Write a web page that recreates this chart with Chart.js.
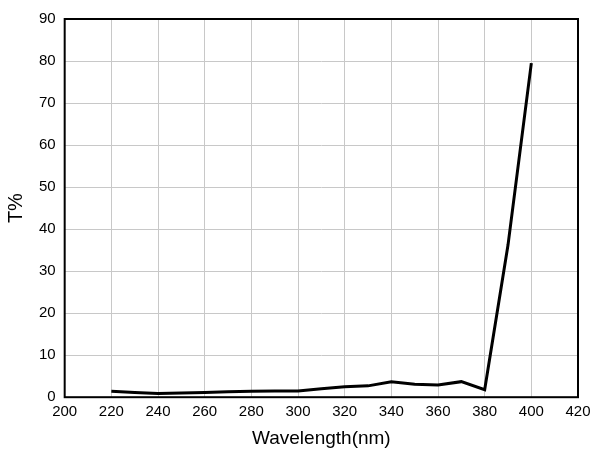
<!DOCTYPE html>
<html>
<head>
<meta charset="utf-8">
<script src="https://cdn.jsdelivr.net/npm/chart.js"></script>
<style>
  html, body { margin: 0; padding: 0; background: #fff; }
  #wrap { width: 600px; height: 451px; }
</style>
</head>
<body>
<div id="wrap"><canvas id="myChart"></canvas></div>
<script>
// data
var wavelength = [220, 230, 240, 250, 260, 270, 280, 290, 300, 310, 320, 330, 340, 350, 360, 370, 380, 390, 400];
var transmittance = [1.4, 1.1, 0.9, 1.0, 1.1, 1.3, 1.4, 1.5, 1.5, 2.0, 2.5, 2.7, 3.7, 3.1, 2.9, 3.7, 1.8, 36.2, 79.5];

var xTicks = [200, 220, 240, 260, 280, 300, 320, 340, 360, 380, 400, 420];
var yTicks = [0, 10, 20, 30, 40, 50, 60, 70, 80, 90];

// frame around the plot area
var frame = {
  id: 'frame',
  afterDraw: function (chart) {
    var a = chart.chartArea;
    var c = chart.ctx;
    c.save();
    c.strokeStyle = '#000';
    c.lineWidth = 2;
    c.strokeRect(a.left, a.top, a.right - a.left, a.bottom - a.top);
    c.restore();
  }
};

var ctx = document.getElementById('myChart').getContext('2d');
var myChart = new Chart(ctx, {
  type: 'line',
  data: {
    datasets: [{
      data: wavelength.map(function (w, i) { return { x: w, y: transmittance[i] }; }),
      borderColor: '#000',
      borderWidth: 3,
      pointRadius: 0,
      fill: false,
      tension: 0
    }]
  },
  options: {
    responsive: true,
    maintainAspectRatio: false,
    animation: false,
    layout: { padding: { left: 4, right: 22, top: 19, bottom: 0 } },
    plugins: { legend: { display: false }, tooltip: { enabled: false } },
    scales: {
      x: {
        type: 'linear',
        min: 200, max: 420,
        afterBuildTicks: function (axis) { axis.ticks = xTicks.map(function (v) { return { value: v }; }); },
        grid: { color: '#c8c8c8', lineWidth: 1, drawTicks: false },
        border: { display: false },
        ticks: { color: '#000', padding: 6, font: { family: 'Liberation Sans', size: 15 }, maxRotation: 0 },
        title: { display: true, text: 'Wavelength(nm)', color: '#000', font: { family: 'Liberation Sans', size: 19 }, padding: { top: 0, bottom: 1 } }
      },
      y: {
        min: 0, max: 90,
        afterBuildTicks: function (axis) { axis.ticks = yTicks.map(function (v) { return { value: v }; }); },
        grid: { color: '#c8c8c8', lineWidth: 1, drawTicks: false },
        border: { display: false },
        ticks: { color: '#000', padding: 9, font: { family: 'Liberation Sans', size: 15 } },
        title: { display: true, text: 'T%', color: '#000', font: { family: 'Liberation Sans', size: 20 }, padding: { top: 0, bottom: 2 } }
      }
    }
  },
  plugins: [frame]
});
</script>
</body>
</html>
